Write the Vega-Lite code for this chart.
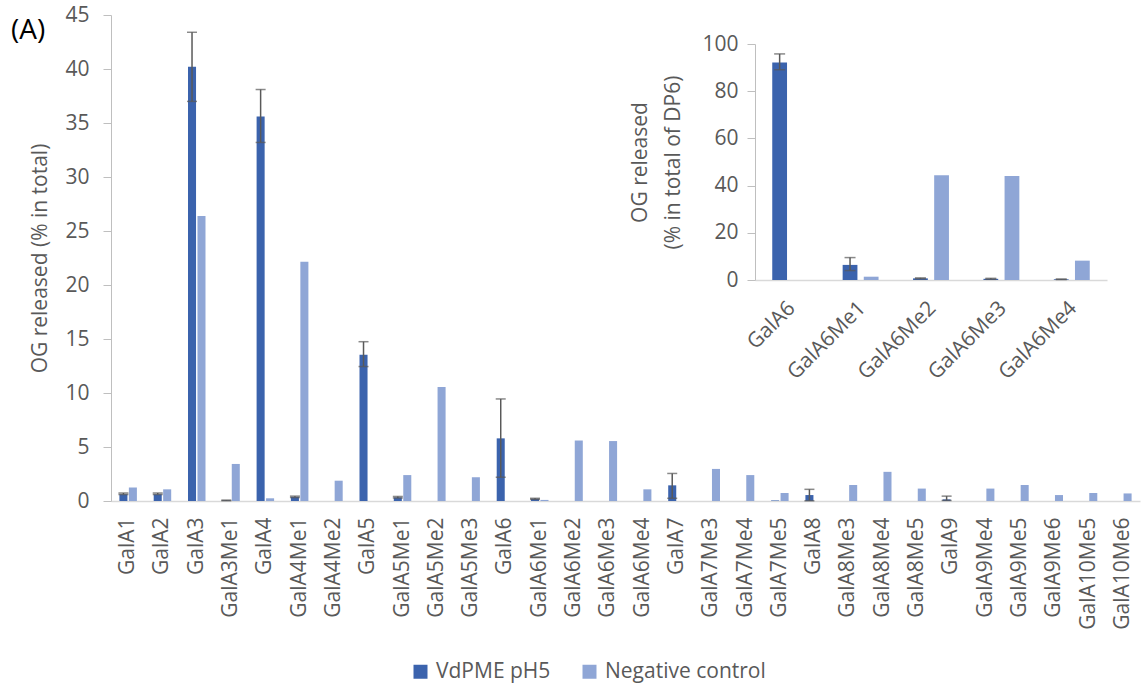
{
  "$schema": "https://vega.github.io/schema/vega-lite/v6.json",
  "autosize": {"type": "none"},
  "padding": {"left": 111, "top": 15, "right": 1, "bottom": 187},
  "width": 1029,
  "height": 486,
  "background": "white",
  "config": {
    "view": {"stroke": null},
    "font": "Open Sans",
    "axis": {"labelFont": "Open Sans", "titleFont": "Open Sans", "labelColor": "#595959", "titleColor": "#595959", "labelFontSize": 21, "titleFontSize": 21, "titleFontWeight": "normal", "grid": false},
    "legend": {"labelFont": "Open Sans", "labelFontSize": 21, "labelColor": "#595959", "symbolType": "square", "symbolSize": 196, "symbolStrokeWidth": 0, "columnPadding": 28, "labelOffset": 5, "padding": 0, "labelLimit": 400}
  },
  "title": {"text": "(A)", "anchor": "start", "frame": "group", "orient": "top", "fontSize": 28, "fontWeight": "normal", "color": "#000000", "font": "Open Sans", "dx": -100, "dy": 38, "offset": -25, "baseline": "alphabetic"},
  "datasets": {
    "main": [
      {"cat": "GalA1", "series": "VdPME pH5", "value": 0.62, "lo": 0.6, "hi": 0.74},
      {"cat": "GalA1", "series": "Negative control", "value": 1.25},
      {"cat": "GalA2", "series": "VdPME pH5", "value": 0.62, "lo": 0.6, "hi": 0.74},
      {"cat": "GalA2", "series": "Negative control", "value": 1.08},
      {"cat": "GalA3", "series": "VdPME pH5", "value": 40.2, "lo": 37.0, "hi": 43.4},
      {"cat": "GalA3", "series": "Negative control", "value": 26.4},
      {"cat": "GalA3Me1", "series": "VdPME pH5", "value": 0.05, "lo": 0.03, "hi": 0.08},
      {"cat": "GalA3Me1", "series": "Negative control", "value": 3.43},
      {"cat": "GalA4", "series": "VdPME pH5", "value": 35.6, "lo": 33.2, "hi": 38.1},
      {"cat": "GalA4", "series": "Negative control", "value": 0.25},
      {"cat": "GalA4Me1", "series": "VdPME pH5", "value": 0.38, "lo": 0.32, "hi": 0.45},
      {"cat": "GalA4Me1", "series": "Negative control", "value": 22.15},
      {"cat": "GalA4Me2", "series": "VdPME pH5", "value": 0},
      {"cat": "GalA4Me2", "series": "Negative control", "value": 1.88},
      {"cat": "GalA5", "series": "VdPME pH5", "value": 13.55, "lo": 12.45, "hi": 14.75},
      {"cat": "GalA5", "series": "Negative control", "value": 0},
      {"cat": "GalA5Me1", "series": "VdPME pH5", "value": 0.33, "lo": 0.28, "hi": 0.42},
      {"cat": "GalA5Me1", "series": "Negative control", "value": 2.4},
      {"cat": "GalA5Me2", "series": "VdPME pH5", "value": 0},
      {"cat": "GalA5Me2", "series": "Negative control", "value": 10.55},
      {"cat": "GalA5Me3", "series": "VdPME pH5", "value": 0},
      {"cat": "GalA5Me3", "series": "Negative control", "value": 2.2},
      {"cat": "GalA6", "series": "VdPME pH5", "value": 5.8, "lo": 2.2, "hi": 9.45},
      {"cat": "GalA6", "series": "Negative control", "value": 0},
      {"cat": "GalA6Me1", "series": "VdPME pH5", "value": 0.2, "lo": 0.15, "hi": 0.25},
      {"cat": "GalA6Me1", "series": "Negative control", "value": 0.1},
      {"cat": "GalA6Me2", "series": "VdPME pH5", "value": 0},
      {"cat": "GalA6Me2", "series": "Negative control", "value": 5.6},
      {"cat": "GalA6Me3", "series": "VdPME pH5", "value": 0},
      {"cat": "GalA6Me3", "series": "Negative control", "value": 5.55},
      {"cat": "GalA6Me4", "series": "VdPME pH5", "value": 0},
      {"cat": "GalA6Me4", "series": "Negative control", "value": 1.08},
      {"cat": "GalA7", "series": "VdPME pH5", "value": 1.45, "lo": 0.25, "hi": 2.55},
      {"cat": "GalA7", "series": "Negative control", "value": 0},
      {"cat": "GalA7Me3", "series": "VdPME pH5", "value": 0},
      {"cat": "GalA7Me3", "series": "Negative control", "value": 2.97},
      {"cat": "GalA7Me4", "series": "VdPME pH5", "value": 0},
      {"cat": "GalA7Me4", "series": "Negative control", "value": 2.4},
      {"cat": "GalA7Me5", "series": "VdPME pH5", "value": 0.05},
      {"cat": "GalA7Me5", "series": "Negative control", "value": 0.74},
      {"cat": "GalA8", "series": "VdPME pH5", "value": 0.55, "lo": 0.02, "hi": 1.08},
      {"cat": "GalA8", "series": "Negative control", "value": 0},
      {"cat": "GalA8Me3", "series": "VdPME pH5", "value": 0},
      {"cat": "GalA8Me3", "series": "Negative control", "value": 1.48},
      {"cat": "GalA8Me4", "series": "VdPME pH5", "value": 0},
      {"cat": "GalA8Me4", "series": "Negative control", "value": 2.7},
      {"cat": "GalA8Me5", "series": "VdPME pH5", "value": 0},
      {"cat": "GalA8Me5", "series": "Negative control", "value": 1.15},
      {"cat": "GalA9", "series": "VdPME pH5", "value": 0.15, "lo": 0.05, "hi": 0.45},
      {"cat": "GalA9", "series": "Negative control", "value": 0},
      {"cat": "GalA9Me4", "series": "VdPME pH5", "value": 0},
      {"cat": "GalA9Me4", "series": "Negative control", "value": 1.15},
      {"cat": "GalA9Me5", "series": "VdPME pH5", "value": 0},
      {"cat": "GalA9Me5", "series": "Negative control", "value": 1.48},
      {"cat": "GalA9Me6", "series": "VdPME pH5", "value": 0},
      {"cat": "GalA9Me6", "series": "Negative control", "value": 0.55},
      {"cat": "GalA10Me5", "series": "VdPME pH5", "value": 0},
      {"cat": "GalA10Me5", "series": "Negative control", "value": 0.74},
      {"cat": "GalA10Me6", "series": "VdPME pH5", "value": 0},
      {"cat": "GalA10Me6", "series": "Negative control", "value": 0.7}
    ],
    "inset": [
      {"cat": "GalA6", "series": "VdPME pH5", "value": 92.2, "lo": 89.1, "hi": 95.8},
      {"cat": "GalA6", "series": "Negative control", "value": 0},
      {"cat": "GalA6Me1", "series": "VdPME pH5", "value": 6.4, "lo": 4.0, "hi": 9.5},
      {"cat": "GalA6Me1", "series": "Negative control", "value": 1.4},
      {"cat": "GalA6Me2", "series": "VdPME pH5", "value": 0.7, "lo": 0.5, "hi": 0.9},
      {"cat": "GalA6Me2", "series": "Negative control", "value": 44.4},
      {"cat": "GalA6Me3", "series": "VdPME pH5", "value": 0.5, "lo": 0.3, "hi": 0.7},
      {"cat": "GalA6Me3", "series": "Negative control", "value": 44.1},
      {"cat": "GalA6Me4", "series": "VdPME pH5", "value": 0.3, "lo": 0.2, "hi": 0.4},
      {"cat": "GalA6Me4", "series": "Negative control", "value": 8.2}
    ]
  },
  "layer": [
    {
      "data": {"name": "main"},
      "encoding": {
        "x": {"field": "cat", "type": "nominal", "title": null,
          "scale": {"domain": ["GalA1","GalA2","GalA3","GalA3Me1","GalA4","GalA4Me1","GalA4Me2","GalA5","GalA5Me1","GalA5Me2","GalA5Me3","GalA6","GalA6Me1","GalA6Me2","GalA6Me3","GalA6Me4","GalA7","GalA7Me3","GalA7Me4","GalA7Me5","GalA8","GalA8Me3","GalA8Me4","GalA8Me5","GalA9","GalA9Me4","GalA9Me5","GalA9Me6","GalA10Me5","GalA10Me6"], "paddingInner": 0.49, "paddingOuter": 0.245},
          "axis": {"orient": "bottom", "labelAngle": -90, "ticks": false, "tickSize": 0, "labelPadding": 16, "domainColor": "#d9d9d9", "domainWidth": 1.5}},
        "xOffset": {"field": "series", "type": "nominal", "scale": {"domain": ["VdPME pH5", "Negative control"], "paddingInner": 0.15}}
      },
      "layer": [
        {
          "mark": {"type": "bar"},
          "encoding": {
            "y": {"field": "value", "type": "quantitative", "scale": {"domain": [0, 45], "nice": false},
              "axis": {"orient": "left", "title": "OG released (% in total)", "values": [0,5,10,15,20,25,30,35,40,45], "domainColor": "#bfbfbf", "tickColor": "#bfbfbf", "tickSize": 8, "labelPadding": 14, "titlePadding": 14}},
            "color": {"field": "series", "type": "nominal", "scale": {"domain": ["VdPME pH5", "Negative control"], "range": ["#3b63ad", "#8fa6d6"]},
              "legend": {"title": null, "orient": "none", "direction": "horizontal", "legendX": 299, "legendY": 646}}
          }
        },
        {
          "transform": [{"filter": "isValid(datum.lo)"}],
          "mark": {"type": "rule", "color": "#595959", "strokeWidth": 1.5},
          "encoding": {
            "y": {"field": "lo", "type": "quantitative",
              "axis": {"orient": "left", "title": "OG released (% in total)", "values": [0,5,10,15,20,25,30,35,40,45], "domainColor": "#bfbfbf", "tickColor": "#bfbfbf", "tickSize": 8, "labelPadding": 14, "titlePadding": 14}},
            "y2": {"field": "hi"}
          }
        },
        {
          "transform": [{"filter": "isValid(datum.lo)"}],
          "mark": {"type": "tick", "color": "#595959", "thickness": 1.5, "size": 10, "orient": "horizontal"},
          "encoding": {"y": {"field": "lo", "type": "quantitative",
              "axis": {"orient": "left", "title": "OG released (% in total)", "values": [0,5,10,15,20,25,30,35,40,45], "domainColor": "#bfbfbf", "tickColor": "#bfbfbf", "tickSize": 8, "labelPadding": 14, "titlePadding": 14}}}
        },
        {
          "transform": [{"filter": "isValid(datum.hi)"}],
          "mark": {"type": "tick", "color": "#595959", "thickness": 1.5, "size": 10, "orient": "horizontal"},
          "encoding": {"y": {"field": "hi", "type": "quantitative",
              "axis": {"orient": "left", "title": "OG released (% in total)", "values": [0,5,10,15,20,25,30,35,40,45], "domainColor": "#bfbfbf", "tickColor": "#bfbfbf", "tickSize": 8, "labelPadding": 14, "titlePadding": 14}}}
        }
      ]
    },
    {
      "data": {"name": "inset"},
      "encoding": {
        "x": {"field": "cat", "type": "nominal", "title": null,
          "scale": {"domain": ["GalA6","GalA6Me1","GalA6Me2","GalA6Me3","GalA6Me4"], "range": [644, 996], "paddingInner": 0.49, "paddingOuter": 0.245},
          "axis": {"orient": "bottom", "offset": -221, "labelAngle": -45, "ticks": false, "tickSize": 0, "labelPadding": 17, "labelOffset": -6, "domainColor": "#d9d9d9", "domainWidth": 1.5}},
        "xOffset": {"field": "series", "type": "nominal", "scale": {"domain": ["VdPME pH5", "Negative control"], "paddingInner": 0.3}}
      },
      "layer": [
        {
          "mark": {"type": "bar"},
          "encoding": {
            "y": {"field": "value", "type": "quantitative", "scale": {"domain": [0, 100], "nice": false, "range": [265, 29]},
              "axis": {"orient": "left", "offset": -644, "title": ["OG released", "(% in total of DP6)"], "titleLineHeight": 33, "values": [0,20,40,60,80,100], "domainColor": "#bfbfbf", "tickColor": "#bfbfbf", "tickSize": 8, "labelPadding": 9, "titlePadding": 18}},
            "color": {"field": "series", "type": "nominal"}
          }
        },
        {
          "transform": [{"filter": "isValid(datum.lo)"}],
          "mark": {"type": "rule", "color": "#595959", "strokeWidth": 1.5},
          "encoding": {
            "y": {"field": "lo", "type": "quantitative",
              "axis": {"orient": "left", "offset": -644, "title": ["OG released", "(% in total of DP6)"], "titleLineHeight": 33, "values": [0,20,40,60,80,100], "domainColor": "#bfbfbf", "tickColor": "#bfbfbf", "tickSize": 8, "labelPadding": 9, "titlePadding": 18}},
            "y2": {"field": "hi"}
          }
        },
        {
          "transform": [{"filter": "isValid(datum.lo)"}],
          "mark": {"type": "tick", "color": "#595959", "thickness": 1.5, "size": 11, "orient": "horizontal"},
          "encoding": {"y": {"field": "lo", "type": "quantitative",
              "axis": {"orient": "left", "offset": -644, "title": ["OG released", "(% in total of DP6)"], "titleLineHeight": 33, "values": [0,20,40,60,80,100], "domainColor": "#bfbfbf", "tickColor": "#bfbfbf", "tickSize": 8, "labelPadding": 9, "titlePadding": 18}}}
        },
        {
          "transform": [{"filter": "isValid(datum.hi)"}],
          "mark": {"type": "tick", "color": "#595959", "thickness": 1.5, "size": 11, "orient": "horizontal"},
          "encoding": {"y": {"field": "hi", "type": "quantitative",
              "axis": {"orient": "left", "offset": -644, "title": ["OG released", "(% in total of DP6)"], "titleLineHeight": 33, "values": [0,20,40,60,80,100], "domainColor": "#bfbfbf", "tickColor": "#bfbfbf", "tickSize": 8, "labelPadding": 9, "titlePadding": 18}}}
        }
      ]
    }
  ],
  "resolve": {"scale": {"x": "independent", "y": "independent", "xOffset": "independent"}, "axis": {"x": "independent", "y": "independent"}}
}
